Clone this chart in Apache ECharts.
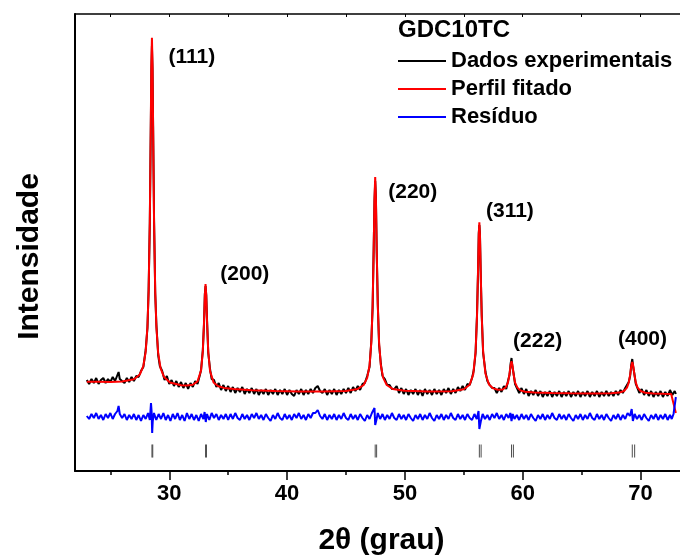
<!DOCTYPE html>
<html><head><meta charset="utf-8">
<script src="https://cdn.jsdelivr.net/npm/echarts@6/dist/echarts.min.js"></script>
<style>html,body{margin:0;padding:0;background:#fff}#c{width:680px;height:556px}</style>
</head><body><div id="c"></div>
<script>
const FONT = '"Liberation Sans", Arial, Helvetica, sans-serif';
const seriesNames = ['Dados experimentais', 'Perfil fitado', 'Resíduo'];
const sampleName = 'GDC10TC';
const xTickLabels = [30, 40, 50, 60, 70];
const xMinorTicks = [25, 35, 45, 55, 65];
const xTopTicks = [25, 30, 35, 40, 45, 50, 55, 60, 65, 70];

// Perfil fitado (2theta, intensity a.u.)
const fitData = [
[23,89.3],[24,89.2],[25,89.1],[26,89.6],[27,91.7],[27.5,96.5],[27.8,104.9],[28.0,119.4],[28.15,144.7],[28.25,180.1],
[28.35,250.1],[28.43,344.2],[28.48,405.7],[28.53,433.2],[28.58,405.5],[28.63,343.9],[28.71,249.5],[28.81,179.3],[28.91,143.5],
[29.06,117.8],[29.26,102.9],[29.56,93.9],[30.06,88.5],[31,85.8],[31.5,85.6],[32,86.3],[32.4,89.6],[32.7,100.6],[32.85,119.9],
[32.95,148.6],[33.02,175.5],[33.08,187],[33.14,175.4],[33.21,148.5],[33.31,119.5],[33.46,100],[33.76,88.6],[34.16,84.7],
[34.66,83.1],[35.5,82],[37,80.8],[39,80.1],[41,79.6],[43,79.6],[45,80.1],[46,82.1],[46.5,86],[46.8,93.1],[47.0,105.5],
[47.15,128.3],[47.26,165.2],[47.35,220.3],[47.42,272.5],[47.48,294],[47.54,272.5],[47.61,220.3],[47.70,165.2],[47.81,128.3],
[47.96,105.5],[48.16,93.1],[48.46,86],[48.96,82.1],[49.96,80.2],[52,79.4],[54,79.8],[55,81.7],[55.5,86.3],[55.8,96.6],
[56.0,119.3],[56.12,154.5],[56.21,202.2],[56.27,236.2],[56.32,248.6],[56.37,236.4],[56.43,202.4],[56.52,154.8],[56.64,119.7],
[56.84,97.2],[57.14,86.4],[57.5,82.6],[57.9,81.3],[58.3,81.6],[58.55,83.5],[58.75,88.5],[58.88,97],[58.97,105.6],[59.05,109.9],
[59.13,105.6],[59.22,97],[59.35,88.4],[59.55,83.4],[59.8,80.6],[60.2,79.3],[61,78.5],[62.5,78],[64,77.7],[66,77.5],[67.5,77.7],
[68.2,78.4],[68.6,80],[68.85,83.3],[69.0,88.3],[69.12,96.3],[69.21,104.5],[69.3,109.1],[69.39,104.5],[69.48,96.3],[69.6,88.3],
[69.75,83.3],[70.0,80],[70.4,78.2],[71.1,77.5],[72,77.2],[72.6,77.1],[73.0,58]
];

// Dados experimentais
const expData = [
[23.0,91],[23.2,87],[23.4,92],[23.6,88],[23.8,93],[24.0,87],[24.2,91],[24.4,93],[24.6,88],[24.8,92],[25.0,89],[25.2,94],
[25.4,90],[25.6,96],[25.7,99],[25.8,92],[26.0,90],[26.2,88],[26.4,93],[26.6,89],[26.8,94],[27.0,90],[27.2,95],[27.4,94],
[27.6,100],[27.8,104],[28.0,121],[28.15,143],[28.25,182],[28.35,248],[28.43,340],[28.48,400],[28.53,425],[28.58,402],
[28.63,345],[28.71,251],[28.81,177],[28.91,146],[29.06,116],[29.2,105],[29.4,100],[29.6,91],[29.8,95],[30.0,87],[30.2,91],
[30.4,85],[30.6,90],[30.8,84],[31.0,89],[31.2,83],[31.4,88],[31.6,82],[31.8,88],[32.0,84],[32.2,90],[32.4,87],[32.6,96],
[32.7,101],[32.85,121],[32.95,147],[33.02,177],[33.08,185],[33.14,176],[33.21,150],[33.31,118],[33.46,102],[33.6,92],
[33.8,91],[34.0,84],[34.2,88],[34.4,81],[34.6,86],[34.8,80],[35.0,85],[35.2,79],[35.4,84],[35.6,78],[35.8,83],[36.0,79],
[36.2,84],[36.4,77],[36.6,82],[36.8,78],[37.0,83],[37.2,77],[37.4,82],[37.6,76],[37.8,81],[38.0,77],[38.2,82],[38.4,76],
[38.6,81],[38.8,77],[39.0,82],[39.2,76],[39.4,81],[39.6,77],[39.8,82],[40.0,76],[40.2,81],[40.4,77],[40.6,75],[40.8,81],
[41.0,77],[41.2,82],[41.4,76],[41.6,81],[41.8,77],[42.0,82],[42.2,78],[42.4,83],[42.6,85],[42.8,80],[43.0,78],[43.2,82],
[43.4,76],[43.6,81],[43.8,77],[44.0,82],[44.2,76],[44.4,81],[44.6,77],[44.8,82],[45.0,78],[45.2,83],[45.4,78],[45.6,84],
[45.8,80],[46.0,85],[46.2,81],[46.4,87],[46.6,88],[46.8,95],[47.0,104],[47.15,130],[47.26,163],[47.35,222],[47.42,270],
[47.48,290],[47.54,274],[47.61,218],[47.70,167],[47.81,126],[47.96,107],[48.1,95],[48.3,92],[48.5,86],[48.7,86],[48.9,82],
[49.1,82],[49.3,85],[49.5,78],[49.7,83],[49.9,77],[50.1,82],[50.3,76],[50.5,81],[50.7,77],[50.9,82],[51.1,76],[51.3,81],
[51.5,75],[51.7,82],[51.9,77],[52.1,81],[52.3,76],[52.5,82],[52.7,77],[52.9,81],[53.1,76],[53.3,82],[53.5,78],[53.7,83],
[53.9,77],[54.1,82],[54.3,78],[54.5,84],[54.7,80],[54.9,85],[55.1,81],[55.3,87],[55.5,86],[55.7,93],[55.85,101],[56.0,118],
[56.12,156],[56.21,200],[56.27,238],[56.32,246],[56.37,238],[56.43,200],[56.52,157],[56.64,118],[56.84,99],[57.0,90],
[57.2,86],[57.4,83],[57.6,83],[57.8,78],[58.0,83],[58.2,79],[58.4,85],[58.6,82],[58.75,90],[58.88,96],[58.97,107],[59.05,113],
[59.13,104],[59.22,98],[59.35,87],[59.5,86],[59.7,78],[59.9,83],[60.1,77],[60.3,82],[60.5,75],[60.7,80],[60.9,76],[61.1,81],
[61.3,75],[61.5,80],[61.7,74],[61.9,79],[62.1,75],[62.3,80],[62.5,74],[62.7,79],[62.9,75],[63.1,80],[63.3,74],[63.5,79],
[63.7,75],[63.9,80],[64.1,74],[64.3,79],[64.5,75],[64.7,80],[64.9,74],[65.1,79],[65.3,75],[65.5,80],[65.7,74],[65.9,79],
[66.1,75],[66.3,80],[66.5,74],[66.7,79],[66.9,75],[67.1,80],[67.3,75],[67.5,79],[67.7,75],[67.9,80],[68.1,76],[68.3,81],
[68.5,78],[68.7,83],[68.85,84],[69.0,89],[69.12,95],[69.21,106],[69.3,112],[69.39,103],[69.48,97],[69.6,87],[69.75,85],
[69.9,78],[70.1,82],[70.3,76],[70.5,81],[70.7,75],[70.9,80],[71.1,74],[71.3,79],[71.5,75],[71.7,80],[71.9,74],[72.1,79],
[72.3,75],[72.5,81],[72.7,76],[72.9,80],[73.0,77]
];

// Residuo
const resData = [
[23.0,55],[23.2,52],[23.4,57],[23.6,53],[23.8,58],[24.0,52],[24.2,56],[24.4,51],[24.6,57],[24.8,53],[25.0,58],[25.2,52],
[25.4,57],[25.6,60],[25.7,65],[25.8,57],[26.0,53],[26.2,57],[26.4,51],[26.6,56],[26.8,52],[27.0,57],[27.2,51],[27.4,56],
[27.6,50],[27.8,56],[28.0,52],[28.2,58],[28.35,51],[28.45,68],[28.5,60],[28.55,38],[28.6,50],[28.7,58],[28.9,51],[29.1,57],
[29.3,52],[29.5,58],[29.7,51],[29.9,56],[30.1,50],[30.3,57],[30.5,52],[30.7,58],[30.9,51],[31.1,56],[31.3,50],[31.5,58],
[31.7,52],[31.9,57],[32.1,51],[32.3,56],[32.5,50],[32.7,57],[32.9,52],[33.0,59],[33.1,49],[33.2,57],[33.4,51],[33.6,58],
[33.8,53],[34.0,57],[34.2,51],[34.4,56],[34.6,52],[34.8,57],[35.0,51],[35.2,57],[35.4,52],[35.6,58],[35.8,53],[36.0,51],
[36.2,57],[36.4,52],[36.6,56],[36.8,51],[37.0,57],[37.2,53],[37.4,58],[37.6,52],[37.8,56],[38.0,51],[38.2,57],[38.4,53],
[38.6,50],[38.8,56],[39.0,52],[39.2,58],[39.4,53],[39.6,51],[39.8,57],[40.0,52],[40.2,56],[40.4,51],[40.6,57],[40.8,53],
[41.0,58],[41.2,52],[41.4,56],[41.6,51],[41.8,57],[42.0,53],[42.2,58],[42.4,58],[42.6,61],[42.8,55],[43.0,52],[43.2,57],
[43.4,51],[43.6,56],[43.8,52],[44.0,57],[44.2,51],[44.4,56],[44.6,52],[44.8,58],[45.0,53],[45.2,51],[45.4,57],[45.6,52],
[45.8,56],[46.0,51],[46.2,57],[46.4,53],[46.6,50],[46.8,56],[47.0,52],[47.2,58],[47.35,60],[47.42,63],[47.48,46],[47.54,44],
[47.6,52],[47.7,58],[47.9,52],[48.1,57],[48.3,51],[48.5,56],[48.7,52],[48.9,58],[49.1,53],[49.3,51],[49.5,57],[49.7,52],
[49.9,56],[50.1,51],[50.3,57],[50.5,53],[50.7,50],[50.9,56],[51.1,52],[51.3,57],[51.5,51],[51.7,56],[51.9,52],[52.1,58],
[52.3,53],[52.5,50],[52.7,56],[52.9,52],[53.1,57],[53.3,51],[53.5,56],[53.7,52],[53.9,58],[54.1,53],[54.3,51],[54.5,57],
[54.7,52],[54.9,56],[55.1,51],[55.3,57],[55.5,53],[55.7,51],[55.9,57],[56.1,52],[56.25,60],[56.32,42],[56.38,40],[56.45,50],
[56.6,57],[56.8,52],[57.0,56],[57.2,51],[57.4,57],[57.6,53],[57.8,58],[58.0,52],[58.2,56],[58.4,51],[58.6,57],[58.8,53],
[58.95,58],[59.05,50],[59.15,57],[59.3,52],[59.5,56],[59.7,51],[59.9,57],[60.1,52],[60.3,56],[60.5,51],[60.7,57],[60.9,53],
[61.1,50],[61.3,56],[61.5,52],[61.7,57],[61.9,51],[62.1,56],[62.3,52],[62.5,58],[62.7,53],[62.9,51],[63.1,57],[63.3,52],
[63.5,56],[63.7,51],[63.9,57],[64.1,53],[64.3,50],[64.5,56],[64.7,52],[64.9,57],[65.1,51],[65.3,56],[65.5,52],[65.7,58],
[65.9,53],[66.1,51],[66.3,57],[66.5,52],[66.7,56],[66.9,51],[67.1,57],[67.3,53],[67.5,50],[67.7,56],[67.9,52],[68.1,57],
[68.3,51],[68.5,56],[68.7,52],[68.9,58],[69.1,55],[69.25,62],[69.35,50],[69.5,57],[69.7,52],[69.9,56],[70.1,51],[70.3,57],
[70.5,53],[70.7,50],[70.9,56],[71.1,52],[71.3,57],[71.5,51],[71.7,56],[71.9,52],[72.1,57],[72.3,51],[72.5,56],[72.65,52],
[72.8,57],[73.0,74]
];

// Bragg reflection positions (K-alpha1 and K-alpha2)
const braggKa1 = [28.53, 33.08, 47.48, 56.32, 59.05, 69.30];
const braggKa2 = [28.60, 33.16, 47.60, 56.47, 59.21, 69.50];
const braggLevel = 20;

// hkl annotations
const hklNames = ['(111)', '(200)', '(220)', '(311)', '(222)', '(400)'];
const hklX = [32.0, 36.5, 50.75, 59.0, 61.35, 70.25];
const hklY = [413, 196, 278, 259, 129, 131];

const chart = echarts.init(document.getElementById('c'), null, {renderer: 'canvas'});
const braggPts = braggKa1.concat(braggKa2).map(x => [x, braggLevel]);
const hklPts = hklNames.map((n, i) => ({name: n, value: [hklX[i], hklY[i]]}));
const bold = {fontFamily: FONT, fontWeight: 'bold', color: '#000'};
const gridBox = {left: 75, top: 14, right: 0, bottom: 85, containLabel: false, outerBoundsMode: 'none'};

chart.setOption({
  animation: false,
  backgroundColor: '#fff',
  textStyle: {fontFamily: FONT},
  title: {text: sampleName, left: 398, top: 18, padding: 0,
    textStyle: Object.assign({fontSize: 24}, bold)},
  legend: {data: seriesNames, orient: 'vertical', left: 398, top: 50, padding: 0,
    itemWidth: 48, itemHeight: 2, itemGap: 6, icon: 'rect',
    textStyle: Object.assign({fontSize: 22, lineHeight: 22}, bold)},
  grid: [Object.assign({}, gridBox), Object.assign({}, gridBox)],
  xAxis: [
    {gridIndex: 0, type: 'value', min: 22, max: 73.35, position: 'bottom',
      axisLine: {lineStyle: {color: '#000', width: 2}},
      axisTick: {customValues: xTickLabels, length: 9, lineStyle: {color: '#000', width: 1.5}},
      axisLabel: {customValues: xTickLabels, fontSize: 22, margin: 12, ...bold},
      splitLine: {show: false},
      name: '2θ (grau)', nameLocation: 'middle', nameGap: 55,
      nameTextStyle: Object.assign({fontSize: 30, padding: [0, 0, 0, 8]}, bold)},
    {gridIndex: 0, type: 'value', min: 22, max: 73.35, position: 'top',
      axisLine: {lineStyle: {color: '#000', width: 1.5}},
      axisTick: {customValues: xTopTicks, inside: true, length: 3, lineStyle: {color: '#000', width: 1}},
      axisLabel: {show: false}, splitLine: {show: false}},
    {gridIndex: 1, type: 'value', min: 22, max: 73.35, position: 'bottom',
      axisLine: {show: false},
      axisTick: {customValues: xMinorTicks, length: 4, lineStyle: {color: '#000', width: 1.5}},
      axisLabel: {show: false}, splitLine: {show: false}}
  ],
  yAxis: [
    {gridIndex: 0, type: 'value', min: 0, max: 457,
      axisLine: {show: true, lineStyle: {color: '#000', width: 2}},
      axisTick: {show: false}, axisLabel: {show: false}, splitLine: {show: false},
      name: 'Intensidade', nameLocation: 'middle', nameRotate: 90, nameGap: 30,
      nameTextStyle: Object.assign({fontSize: 30, padding: [0, 28, 0, 0]}, bold)},
    {gridIndex: 1, type: 'value', min: 0, max: 457, show: false}
  ],
  series: [
    {name: seriesNames[0], type: 'line', data: expData, showSymbol: false, symbol: 'none',
      color: '#000', lineStyle: {color: '#000', width: 2}, z: 2, silent: true},
    {name: seriesNames[1], type: 'line', data: fitData, showSymbol: false, symbol: 'none',
      color: '#ff0000', lineStyle: {color: '#ff0000', width: 2}, z: 3, silent: true},
    {name: seriesNames[2], type: 'line', data: resData, showSymbol: false, symbol: 'none',
      color: '#0000ff', lineStyle: {color: '#0000ff', width: 2}, z: 4, silent: true},
    {name: 'Bragg', type: 'scatter', data: braggPts, symbol: 'rect', symbolSize: [1, 13],
      itemStyle: {color: '#222'}, z: 2, silent: true},
    {name: 'hkl', type: 'scatter', data: hklPts, symbolSize: 2, itemStyle: {color: '#000', opacity: 0},
      label: {show: true, position: [0, 0], align: 'center', verticalAlign: 'middle',
        formatter: p => p.name, fontSize: 21, opacity: 1,
        fontFamily: FONT, fontWeight: 'bold', color: '#000', textBorderWidth: 0},
      z: 5, silent: true}
  ]
});
</script></body></html>
